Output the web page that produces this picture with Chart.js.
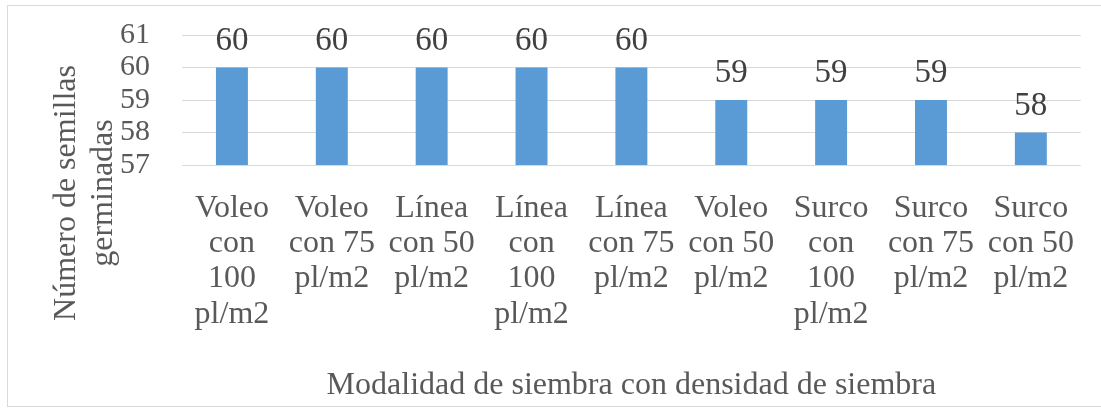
<!DOCTYPE html>
<html>
<head>
<meta charset="utf-8">
<script src="https://cdn.jsdelivr.net/npm/chart.js@4/dist/chart.umd.min.js"></script>
<style>
  html, body { margin: 0; padding: 0; background: #fff; }
  #chart { display: block; }
  .font-warm { position: absolute; left: -9999px; top: 0; font: 30px "Liberation Serif"; }
</style>
</head>
<body>
<div class="font-warm">Número de semillas 0123456789</div>
<canvas id="chart" width="1101" height="408"></canvas>
<script>
let categories = [
  ["Voleo", "con", "100", "pl/m2"],
  ["Voleo", "con 75", "pl/m2"],
  ["Línea", "con 50", "pl/m2"],
  ["Línea", "con", "100", "pl/m2"],
  ["Línea", "con 75", "pl/m2"],
  ["Voleo", "con 50", "pl/m2"],
  ["Surco", "con", "100", "pl/m2"],
  ["Surco", "con 75", "pl/m2"],
  ["Surco", "con 50", "pl/m2"],
];
let germinated = [60, 60, 60, 60, 60, 59, 59, 59, 58];
let y_min = 57;
let y_max = 61;
let y_title = ["Número de semillas", "germinadas"];
let x_title = "Modalidad de siembra con densidad de siembra";

let text_color = "#595959";
let grid_color = "#d9d9d9";
let bar_color = "#5b9bd5";
let serif = "'Liberation Serif', serif";

Chart.defaults.font.family = serif;
Chart.defaults.color = text_color;

// light frame round the whole chart
let framePlugin = {
  id: "frame",
  beforeDraw(chart) {
    let ctx = chart.ctx;
    ctx.save();
    ctx.fillStyle = "#fff";
    ctx.fillRect(0, 0, chart.width, chart.height);
    ctx.strokeStyle = grid_color;
    ctx.lineWidth = 1;
    ctx.strokeRect(7.5, 5.5, chart.width + 4, chart.height - 7);
    ctx.restore();
  },
};

// value written above each bar
let valueLabels = {
  id: "valueLabels",
  afterDatasetsDraw(chart) {
    let ctx = chart.ctx;
    let meta = chart.getDatasetMeta(0);
    ctx.save();
    ctx.font = "33px " + serif;
    ctx.fillStyle = "#404040";
    ctx.textAlign = "center";
    ctx.textBaseline = "alphabetic";
    meta.data.forEach((bar, i) => {
      ctx.fillText(String(germinated[i]), bar.x, bar.y - 18);
    });
    ctx.restore();
  },
};

// two-line vertical title of the value axis
let yTitle = {
  id: "yTitle",
  afterDraw(chart) {
    let ctx = chart.ctx;
    ctx.save();
    ctx.font = "32px " + serif;
    ctx.fillStyle = text_color;
    ctx.textAlign = "center";
    ctx.textBaseline = "alphabetic";
    ctx.translate(0, 193);
    ctx.rotate(-Math.PI / 2);
    ctx.fillText(y_title[0], 0, 75);
    ctx.fillText(y_title[1], 0, 112);
    ctx.restore();
  },
};

function createChart() {
  let config = {
    type: "bar",
    data: {
      labels: categories,
      datasets: [
        {
          data: germinated,
          backgroundColor: bar_color,
          borderWidth: 0,
          barPercentage: 0.32,
          categoryPercentage: 1,
        },
      ],
    },
    options: {
      responsive: false,
      animation: false,
      layout: { padding: { top: 35, right: 19, bottom: 0, left: 0 } },
      plugins: {
        legend: { display: false },
        tooltip: { enabled: false },
      },
      scales: {
        x: {
          grid: { display: false, drawTicks: false },
          border: { display: false },
          ticks: {
            autoSkip: false,
            maxRotation: 0,
            minRotation: 0,
            padding: 26,
            color: text_color,
            font: { family: serif, size: 32, lineHeight: 1.1 },
          },
          title: {
            display: true,
            text: x_title,
            color: text_color,
            font: { family: serif, size: 32, lineHeight: 1.2 },
            padding: { top: 0, bottom: 3 },
          },
          afterFit(scale) {
            scale.height = 408 - 165;
          },
        },
        y: {
          min: y_min,
          max: y_max,
          ticks: {
            stepSize: 1,
            autoSkip: false,
            padding: 0,
            color: text_color,
            font: { family: serif, size: 30 },
          },
          // invisible tick marks keep the labels clear of the plot
          grid: {
            color: grid_color,
            lineWidth: 1,
            drawTicks: true,
            tickLength: 32,
            tickColor: "rgba(0,0,0,0)",
          },
          border: { display: false },
          afterFit(scale) {
            scale.width = 182;
          },
        },
      },
    },
    plugins: [framePlugin, valueLabels, yTitle],
  };
  new Chart(document.getElementById("chart"), config);
}

window.addEventListener("load", () => {
  document.fonts.ready.then(createChart);
});
</script>
</body>
</html>
